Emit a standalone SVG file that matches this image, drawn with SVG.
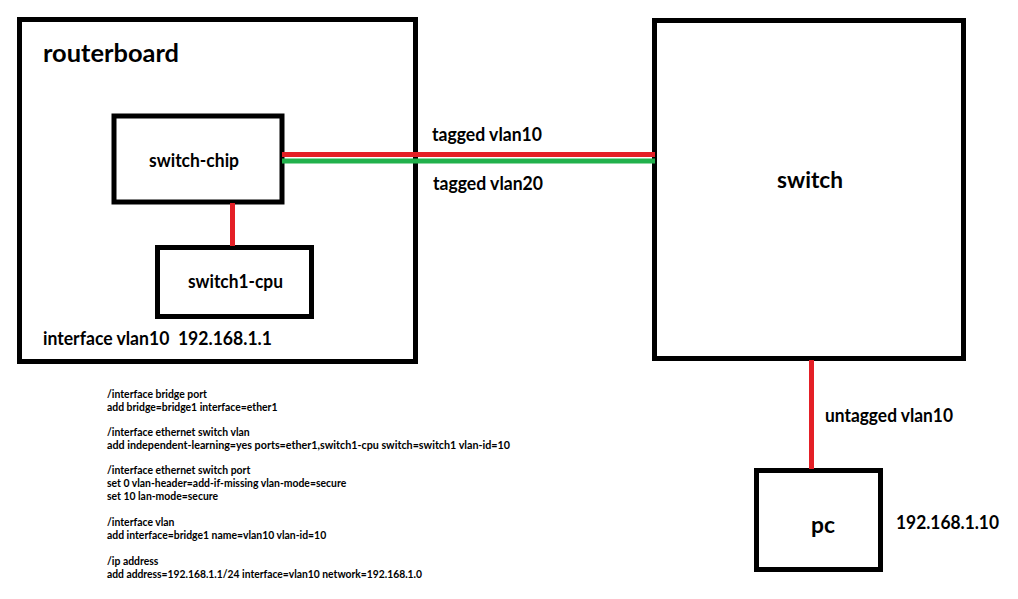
<svg xmlns="http://www.w3.org/2000/svg" width="1018" height="599" viewBox="0 0 1018 599">
<style>
.box{fill:#fff;stroke:#000;stroke-width:5}
.t{font-family:Lato,"Liberation Sans",sans-serif;font-weight:bold;fill:#000;white-space:pre}
.s{font-family:Lato,"Liberation Sans",sans-serif;font-weight:bold;font-size:10.4px;fill:#000}
.red{stroke:#e41f26;stroke-width:5;fill:none}
.green{stroke:#22b14c;stroke-width:5;fill:none}
</style>
<rect width="1018" height="599" fill="#fff"/>
<g id="routerboard">
<rect class="box" x="19.5" y="19.5" width="396" height="342"/>
<text class="t" x="43" y="62" font-size="25" textLength="136" lengthAdjust="spacingAndGlyphs">routerboard</text>
<text class="t" x="43" y="345" font-size="18" textLength="229" lengthAdjust="spacingAndGlyphs" xml:space="preserve">interface vlan10  192.168.1.1</text>
</g>
<g id="switch-chip">
<rect class="box" x="114" y="116" width="168" height="86"/>
<text class="t" x="149" y="167" font-size="18" textLength="90" lengthAdjust="spacingAndGlyphs">switch-chip</text>
</g>
<g id="switch1-cpu">
<rect class="box" x="157.5" y="247.5" width="154" height="69"/>
<text class="t" x="188" y="288" font-size="18" textLength="95" lengthAdjust="spacingAndGlyphs">switch1-cpu</text>
</g>
<g id="switch">
<rect class="box" x="654.5" y="20.5" width="309" height="338"/>
<text class="t" x="777" y="188" font-size="22" textLength="66" lengthAdjust="spacingAndGlyphs">switch</text>
</g>
<g id="pc">
<rect class="box" x="756.5" y="470.5" width="124" height="99"/>
<text class="t" x="811" y="533" font-size="22" textLength="24" lengthAdjust="spacingAndGlyphs">pc</text>
<text class="t" x="896" y="529" font-size="18" textLength="103" lengthAdjust="spacingAndGlyphs">192.168.1.10</text>
</g>
<g id="connectors">
<line class="red" x1="282" y1="154.5" x2="655" y2="154.5"/>
<line class="green" x1="282" y1="161" x2="655" y2="161"/>
<line class="red" x1="232.5" y1="203" x2="232.5" y2="246"/>
<line class="red" x1="811.5" y1="360" x2="811.5" y2="469"/>
<text class="t" x="432" y="141" font-size="18" textLength="110" lengthAdjust="spacingAndGlyphs">tagged vlan10</text>
<text class="t" x="433" y="190" font-size="18" textLength="110" lengthAdjust="spacingAndGlyphs">tagged vlan20</text>
<text class="t" x="825" y="422" font-size="18" textLength="128" lengthAdjust="spacingAndGlyphs">untagged vlan10</text>
</g>
<g id="config">
<text class="s" x="107" y="398">/interface bridge port</text>
<text class="s" x="107" y="411">add bridge=bridge1 interface=ether1</text>
<text class="s" x="107" y="436">/interface ethernet switch vlan</text>
<text class="s" x="107" y="449" textLength="403" lengthAdjust="spacingAndGlyphs">add independent-learning=yes ports=ether1,switch1-cpu switch=switch1 vlan-id=10</text>
<text class="s" x="107" y="474">/interface ethernet switch port</text>
<text class="s" x="107" y="487">set 0 vlan-header=add-if-missing vlan-mode=secure</text>
<text class="s" x="107" y="500">set 10 lan-mode=secure</text>
<text class="s" x="107" y="526">/interface vlan</text>
<text class="s" x="107" y="539">add interface=bridge1 name=vlan10 vlan-id=10</text>
<text class="s" x="107" y="565">/ip address</text>
<text class="s" x="107" y="578" textLength="315" lengthAdjust="spacingAndGlyphs">add address=192.168.1.1/24 interface=vlan10 network=192.168.1.0</text>
</g>
</svg>
